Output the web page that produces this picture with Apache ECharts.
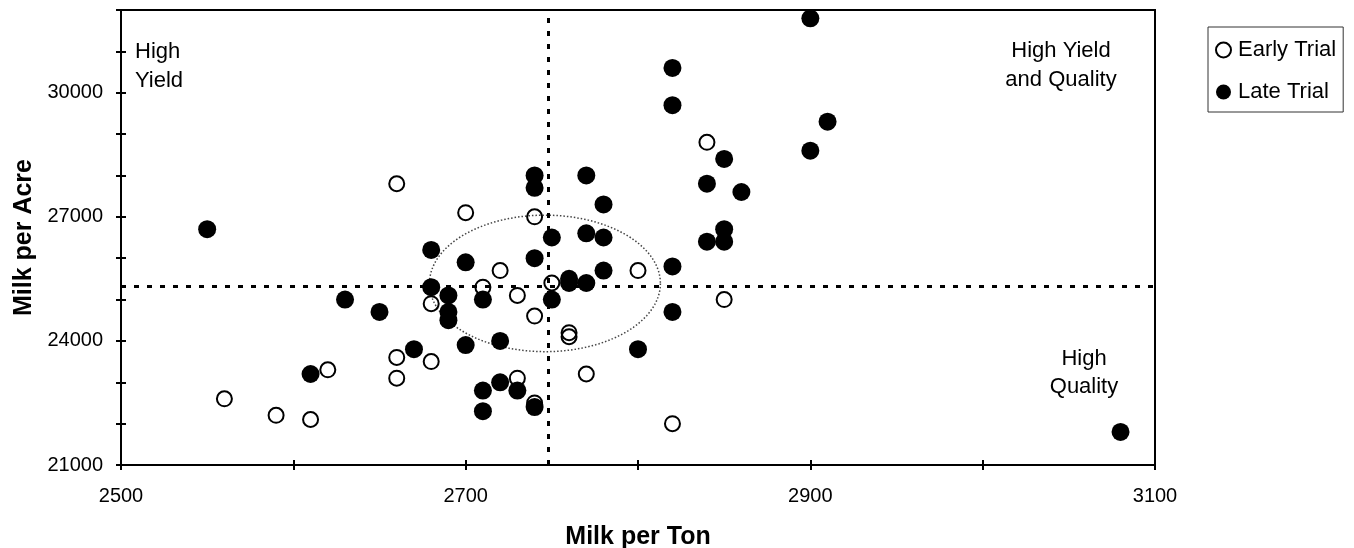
<!DOCTYPE html>
<html>
<head>
<meta charset="utf-8">
<script src="https://cdn.jsdelivr.net/npm/echarts@6/dist/echarts.min.js"></script>
<style>
html,body{margin:0;padding:0;background:#fff;}
#chart{width:1354px;height:548px;}
</style>
</head>
<body>
<div id="chart"></div>
<script>
// ---- data ----
const earlyX = [2560, 2590, 2610, 2620, 2660, 2660, 2660, 2680, 2680, 2700, 2710, 2720, 2730, 2730, 2740, 2740, 2740, 2750, 2760, 2760, 2770, 2800, 2820, 2840, 2850];
const earlyY = [22600, 22200, 22100, 23300, 27800, 23600, 23100, 24900, 23500, 27100, 25300, 25700, 25100, 23100, 27000, 24600, 22500, 25400, 24200, 24100, 23200, 25700, 22000, 28800, 25000];
const lateX = [2550, 2610, 2630, 2650, 2670, 2680, 2680, 2690, 2690, 2690, 2700, 2700, 2710, 2710, 2710, 2720, 2720, 2730, 2740, 2740, 2740, 2740, 2750, 2750, 2760, 2760, 2770, 2770, 2770, 2780, 2780, 2780, 2800, 2820, 2820, 2820, 2820, 2840, 2840, 2850, 2850, 2850, 2860, 2900, 2900, 2910, 3080];
const lateY = [26700, 23200, 25000, 24700, 23800, 26200, 25300, 25100, 24700, 24500, 25900, 23900, 25000, 22800, 22300, 24000, 23000, 22800, 28000, 27700, 26000, 22400, 26500, 25000, 25500, 25400, 28000, 26600, 25400, 27300, 26500, 25700, 23800, 30600, 29700, 25800, 24700, 27800, 26400, 28400, 26700, 26400, 27600, 31800, 28600, 29300, 21800];
const refX = 2748;          // vertical dashed reference
const refY = 25320;         // horizontal dashed reference
const ellipseCenter = [2746, 25390];
const ellipseRadii = [67, 1650];
const xTickLabels = [2500, 2700, 2900, 3100];
const yTickLabels = [21000, 24000, 27000, 30000];
const seriesNames = ['Early Trial', 'Late Trial'];
const quadrantLabels = ['High\nYield', 'High Yield\nand Quality', 'High\nQuality'];

// ---- chart ----
const FONT = 'Liberation Sans, Arial, sans-serif';
const chart = echarts.init(document.getElementById('chart'), null, {renderer: 'canvas'});
const zip = (xs, ys) => xs.map((x, i) => [x, ys[i]]);

const X_RANGE = {type: 'value', min: 2500, max: 3100, interval: 100};
const Y_RANGE = {type: 'value', min: 21000, max: 32000, interval: 1000};
const tickStyle = {color: '#000', width: 2};

const option = {
  backgroundColor: '#fff',
  animation: false,
  textStyle: {fontFamily: FONT, color: '#000'},
  grid: {left: 121, right: 199, top: 10, bottom: 83, containLabel: false, outerBoundsMode: 'none',
         show: true, borderColor: '#000', borderWidth: 2, backgroundColor: 'transparent'},
  legend: {
    orient: 'vertical', left: 1208, top: 27,
    data: seriesNames,
    icon: 'circle', itemWidth: 15, itemHeight: 15, itemGap: 20,
    padding: [12, 7, 9, 7],
    borderColor: '#333', borderWidth: 1,
    textStyle: {fontFamily: FONT, fontSize: 22, color: '#000', padding: [0, 0, 0, 2]}
  },
  xAxis: [Object.assign({}, X_RANGE, {
    position: 'bottom',
    name: 'Milk per Ton', nameLocation: 'middle', nameGap: 60,
    nameTextStyle: {fontFamily: FONT, fontSize: 25, fontWeight: 'bold', color: '#000'},
    axisLine: {show: true, onZero: false, lineStyle: {color: '#000', width: 2}},
    axisTick: {show: true, length: 5, lineStyle: tickStyle},
    splitLine: {show: false},
    axisLabel: {
      fontFamily: FONT, fontSize: 20, color: '#000', margin: 21,
      formatter: v => xTickLabels.includes(v) ? String(v) : ''
    }
  }), Object.assign({}, X_RANGE, {
    position: 'bottom', offset: 0,
    axisLine: {show: false, onZero: false},
    axisTick: {show: true, inside: true, length: 5, lineStyle: tickStyle},
    axisLabel: {show: false}, splitLine: {show: false}
  })],
  yAxis: [Object.assign({}, Y_RANGE, {
    position: 'left',
    name: 'Milk per Acre', nameLocation: 'middle', nameGap: 84,
    nameTextStyle: {fontFamily: FONT, fontSize: 25, fontWeight: 'bold', color: '#000'},
    axisLine: {show: true, onZero: false, lineStyle: {color: '#000', width: 2}},
    axisTick: {show: true, length: 5, lineStyle: tickStyle},
    splitLine: {show: false},
    axisLabel: {
      fontFamily: FONT, fontSize: 20, color: '#000', margin: 18,
      formatter: v => yTickLabels.includes(v) ? String(v) : ''
    }
  }), Object.assign({}, Y_RANGE, {
    position: 'left', offset: 0,
    axisLine: {show: false, onZero: false},
    axisTick: {show: true, inside: true, length: 5, lineStyle: tickStyle},
    axisLabel: {show: false}, splitLine: {show: false}
  })],
  graphic: [
    {type: 'text', left: 135, top: 37, silent: true,
     style: {text: quadrantLabels[0], font: '22px ' + FONT, fill: '#000', lineHeight: 29}},
    {type: 'text', x: 1061, y: 65, silent: true,
     style: {text: quadrantLabels[1], font: '22px ' + FONT, fill: '#000', lineHeight: 29, textAlign: 'center', textVerticalAlign: 'middle'}},
    {type: 'text', x: 1084, y: 373, silent: true,
     style: {text: quadrantLabels[2], font: '22px ' + FONT, fill: '#000', lineHeight: 28, textAlign: 'center', textVerticalAlign: 'middle'}}
  ],
  series: [
    {
      type: 'custom', name: 'ellipse', silent: true, z: 1,
      data: [[ellipseCenter[0], ellipseCenter[1], ellipseRadii[0], ellipseRadii[1]]],
      renderItem: function (params, api) {
        const c = api.coord([api.value(0), api.value(1)]);
        const s = api.size([api.value(2), api.value(3)]);
        const pts = [];
        for (let i = 0; i < 180; i++) {
          const t = i / 180 * Math.PI * 2;
          pts.push([c[0] + s[0] * Math.cos(t), c[1] + s[1] * Math.sin(t)]);
        }
        return {type: 'polygon', shape: {points: pts},
          style: {fill: 'none', stroke: '#444', lineWidth: 1.5, lineDash: [1.5, 2]}};
      }
    },
    {
      name: seriesNames[0], type: 'scatter', symbol: 'circle', symbolSize: 15, z: 3,
      data: zip(earlyX, earlyY),
      itemStyle: {color: 'rgba(255,255,255,0)', borderColor: '#000', borderWidth: 2, opacity: 1}
    },
    {
      name: seriesNames[1], type: 'scatter', symbol: 'circle', symbolSize: 18, z: 4,
      data: zip(lateX, lateY),
      itemStyle: {color: '#000', opacity: 1},
      markLine: {
        silent: true, symbol: 'none', animation: false, z: 5,
        label: {show: false},
        lineStyle: {color: '#000', width: 3, type: [5, 8]},
        data: [{xAxis: refX}, {yAxis: refY}]
      }
    }
  ]
};
chart.setOption(option);
</script>
</body>
</html>
